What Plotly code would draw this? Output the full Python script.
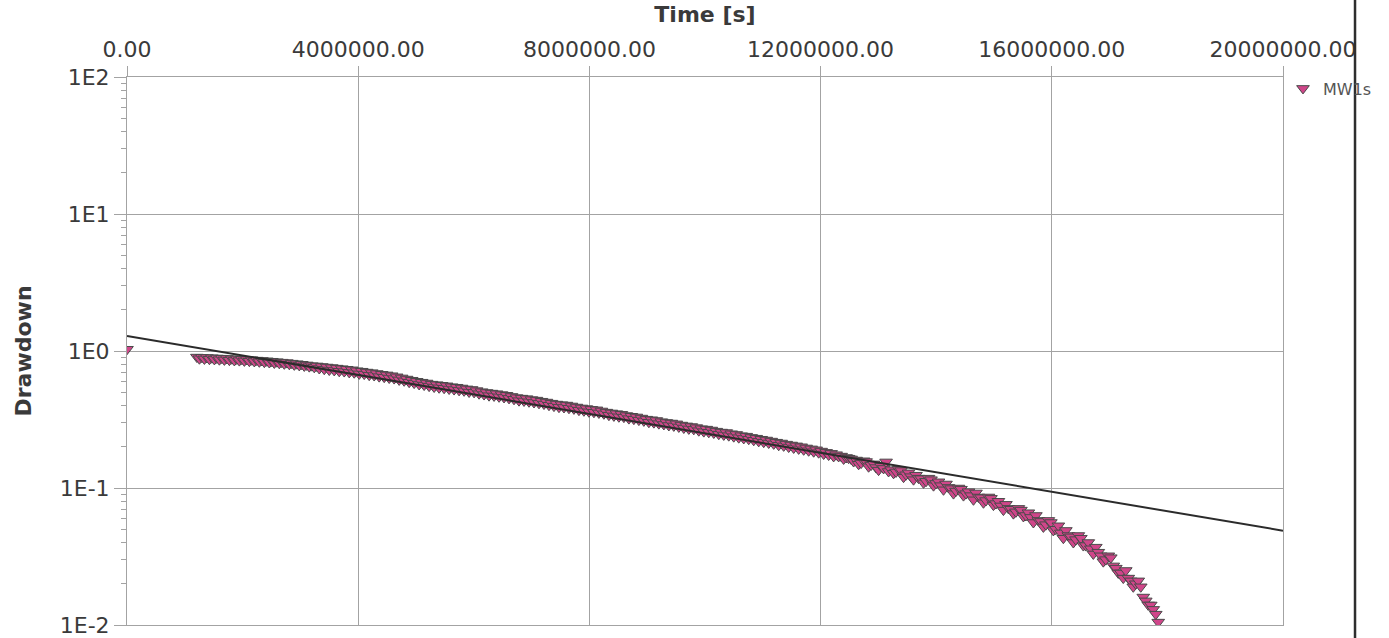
import plotly.graph_objects as go

# Observation well MW1s: two readings a day (00:00 and 12:00), drawdown in m
elapsed_days = [
    14, 15, 16, 17, 18, 19, 20, 21, 22, 23,
    24, 25, 26, 27, 28, 29, 30, 31, 32, 33,
    34, 35, 36, 37, 38, 39, 40, 41, 42, 43,
    44, 45, 46, 47, 48, 49, 50, 51, 52, 53,
    54, 55, 56, 57, 58, 59, 60, 61, 62, 63,
    64, 65, 66, 67, 68, 69, 70, 71, 72, 73,
    74, 75, 76, 77, 78, 79, 80, 81, 82, 83,
    84, 85, 86, 87, 88, 89, 90, 91, 92, 93,
    94, 95, 96, 97, 98, 99, 100, 101, 102, 103,
    104, 105, 106, 107, 108, 109, 110, 111, 112, 113,
    114, 115, 116, 117, 118, 119, 120, 121, 122, 123,
    124, 125, 126, 127, 128, 129, 130, 131, 132, 133,
    134, 135, 136, 137, 138, 139, 140, 141, 142, 143,
    144, 145, 146, 147, 148, 149, 150, 151, 152, 153,
    154, 155, 156, 157, 158, 159, 160, 161, 162, 163,
    164, 165, 166, 167, 168, 169, 170, 171, 172, 173,
    174, 175, 176, 177, 178, 179, 180, 181, 182, 183,
    184, 185, 186, 187, 188, 189, 190, 191, 192, 193,
    194, 195, 196, 197, 198, 199, 200, 201, 202, 203,
    204, 205, 206,
]

drawdown_0h = [
    0.903, 0.900, 0.896, 0.893, 0.889, 0.886, 0.882, 0.878, 0.875, 0.871,
    0.867, 0.863, 0.858, 0.853, 0.848, 0.842, 0.836, 0.829, 0.823, 0.815,
    0.808, 0.800, 0.791, 0.782, 0.778, 0.771, 0.764, 0.757, 0.750, 0.743,
    0.736, 0.729, 0.718, 0.712, 0.702, 0.695, 0.685, 0.676, 0.669, 0.660,
    0.648, 0.636, 0.624, 0.612, 0.601, 0.592, 0.584, 0.573, 0.568, 0.562,
    0.557, 0.549, 0.544, 0.537, 0.529, 0.524, 0.514, 0.505, 0.498, 0.493,
    0.488, 0.481, 0.475, 0.466, 0.457, 0.453, 0.449, 0.442, 0.438, 0.430,
    0.424, 0.416, 0.410, 0.406, 0.403, 0.397, 0.390, 0.384, 0.380, 0.375,
    0.372, 0.365, 0.358, 0.353, 0.349, 0.345, 0.338, 0.334, 0.330, 0.324,
    0.318, 0.315, 0.311, 0.305, 0.301, 0.298, 0.294, 0.288, 0.284, 0.281,
    0.276, 0.271, 0.269, 0.265, 0.260, 0.256, 0.254, 0.249, 0.246, 0.241,
    0.239, 0.234, 0.231, 0.227, 0.224, 0.220, 0.216, 0.213, 0.209, 0.206,
    0.203, 0.200, 0.196, 0.193, 0.190, 0.186, 0.182, 0.179, 0.175, 0.171,
    0.167, 0.163, 0.160, 0.152, 0.156, 0.147, 0.141, 0.144, 0.155, 0.136,
    0.131, 0.134, 0.125, 0.121, 0.124, 0.117, 0.112, 0.115, 0.108, 0.104,
    0.107, 0.099, 0.095, 0.098, 0.091, 0.088, 0.092, 0.085, 0.081, 0.084,
    0.077, 0.074, 0.076, 0.070, 0.067, 0.069, 0.063, 0.061, 0.063, 0.057,
    0.054, 0.056, 0.050, 0.047, 0.049, 0.044, 0.042, 0.043, 0.038, 0.036,
    0.037, 0.032, 0.030, 0.031, 0.026, 0.024, 0.025, 0.021, 0.020, 0.019,
    0.015, 0.014, 0.012,
]

drawdown_12h = [
    0.878, 0.875, 0.871, 0.868, 0.864, 0.861, 0.857, 0.853, 0.851, 0.847,
    0.843, 0.839, 0.834, 0.829, 0.824, 0.818, 0.813, 0.806, 0.800, 0.792,
    0.785, 0.778, 0.769, 0.760, 0.745, 0.736, 0.726, 0.721, 0.711, 0.708,
    0.698, 0.694, 0.681, 0.678, 0.666, 0.662, 0.650, 0.644, 0.635, 0.629,
    0.615, 0.606, 0.592, 0.583, 0.570, 0.564, 0.554, 0.546, 0.539, 0.535,
    0.528, 0.523, 0.516, 0.512, 0.502, 0.499, 0.488, 0.481, 0.472, 0.470,
    0.463, 0.458, 0.451, 0.444, 0.434, 0.432, 0.426, 0.421, 0.415, 0.410,
    0.402, 0.396, 0.389, 0.387, 0.382, 0.378, 0.370, 0.366, 0.360, 0.357,
    0.353, 0.348, 0.340, 0.336, 0.331, 0.329, 0.321, 0.318, 0.313, 0.309,
    0.302, 0.300, 0.295, 0.291, 0.286, 0.284, 0.279, 0.274, 0.270, 0.268,
    0.262, 0.258, 0.255, 0.252, 0.247, 0.244, 0.241, 0.237, 0.233, 0.230,
    0.227, 0.223, 0.219, 0.216, 0.213, 0.210, 0.205, 0.203, 0.199, 0.196,
    0.193, 0.190, 0.187, 0.184, 0.181, 0.177, 0.174, 0.170, 0.170, 0.163,
    0.165, 0.156, 0.149, 0.158, 0.143, 0.150, 0.135, 0.139, 0.132, 0.128,
    0.137, 0.120, 0.129, 0.115, 0.118, 0.109, 0.118, 0.104, 0.111, 0.097,
    0.101, 0.091, 0.100, 0.088, 0.094, 0.082, 0.086, 0.078, 0.086, 0.075,
    0.080, 0.069, 0.071, 0.065, 0.071, 0.062, 0.066, 0.056, 0.058, 0.052,
    0.058, 0.049, 0.053, 0.043, 0.045, 0.040, 0.045, 0.038, 0.040, 0.033,
    0.034, 0.029, 0.032, 0.027, 0.024, 0.022, 0.022, 0.019, 0.021, 0.016,
    0.014, 0.013, 0.0105,
]

# First reading at the moment pumping stopped
initial_time_s = 0.0
initial_drawdown = 1.03

SECONDS_PER_DAY = 86400
time_s = [initial_time_s]
values = [initial_drawdown]
for day, v0, v12 in zip(elapsed_days, drawdown_0h, drawdown_12h):
    time_s += [day * SECONDS_PER_DAY, (day + 0.5) * SECONDS_PER_DAY]
    values += [v0, v12]

# Straight-line (semi-log) recession fit, end points
fit_time_s = [0.0, 20000000.0]
fit_drawdown = [1.287, 0.0488]

x_ticks = [0, 4000000, 8000000, 12000000, 16000000, 20000000]
y_ticks = [0.01, 0.1, 1, 10, 100]
y_tick_text = ["1E-2", "1E-1", "1E0", "1E1", "1E2"]
y_minor = [m * 10.0 ** e for e in (-2, -1, 0, 1) for m in range(2, 10)]

FONT = "DejaVu Sans, Verdana, sans-serif"
GRID = "#a3a3a3"
TEXT = "#3a3a3a"

fig = go.Figure()

fig.add_trace(go.Scatter(
    x=time_s, y=values, mode="markers", name="MW1s",
    marker=dict(symbol="triangle-down", size=11, color="#d0468a",
                line=dict(color="#4a4a4a", width=1)),
    cliponaxis=True,
))

fig.add_trace(go.Scatter(
    x=fit_time_s, y=fit_drawdown, mode="lines", showlegend=False,
    line=dict(color="#2b2b2b", width=2),
))

fig.update_layout(
    width=1389, height=638,
    margin=dict(l=127, r=106, t=77, b=13),
    paper_bgcolor="white", plot_bgcolor="white",
    font=dict(family=FONT, color=TEXT, size=22),
    showlegend=True,
    legend=dict(x=1.0, y=1.01, xanchor="left", yanchor="top",
                font=dict(size=16, color="#555555"),
                bgcolor="rgba(0,0,0,0)", itemwidth=30,
                tracegroupgap=0),
    xaxis=dict(
        side="top", range=[0, 20000000], automargin=False,
        tickmode="array", tickvals=x_ticks, tickformat=".2f",
        ticks="outside", ticklen=10, tickcolor=GRID,
        showgrid=True, gridcolor=GRID, gridwidth=1,
        showline=True, linecolor=GRID, linewidth=1, mirror=True,
        zeroline=False,
        tickfont=dict(size=22, color=TEXT),
        title=dict(text="Time [s]", standoff=8,
                   font=dict(size=22, color=TEXT, family=FONT, weight="bold")),
    ),
    yaxis=dict(
        type="log", range=[-2, 2], automargin=False,
        tickmode="array", tickvals=y_ticks, ticktext=y_tick_text,
        ticks="outside", ticklen=12, tickcolor=GRID,
        showgrid=True, gridcolor=GRID, gridwidth=1,
        showline=True, linecolor=GRID, linewidth=1, mirror=True,
        zeroline=False,
        tickfont=dict(size=22, color=TEXT),
        minor=dict(tickmode="array", tickvals=y_minor, ticks="outside",
                   ticklen=5, tickcolor=GRID, showgrid=False),
        title=dict(text="Drawdown", standoff=22,
                   font=dict(size=22, color=TEXT, family=FONT, weight="bold")),
    ),
    shapes=[
        # page frame edge on the right
        dict(type="line", xref="paper", yref="paper",
             x0=1.0623, x1=1.0623, y0=-0.03, y1=1.15,
             line=dict(color="#2e2e2e", width=2.5), layer="above"),
    ],
)

fig.write_html("out.html")
